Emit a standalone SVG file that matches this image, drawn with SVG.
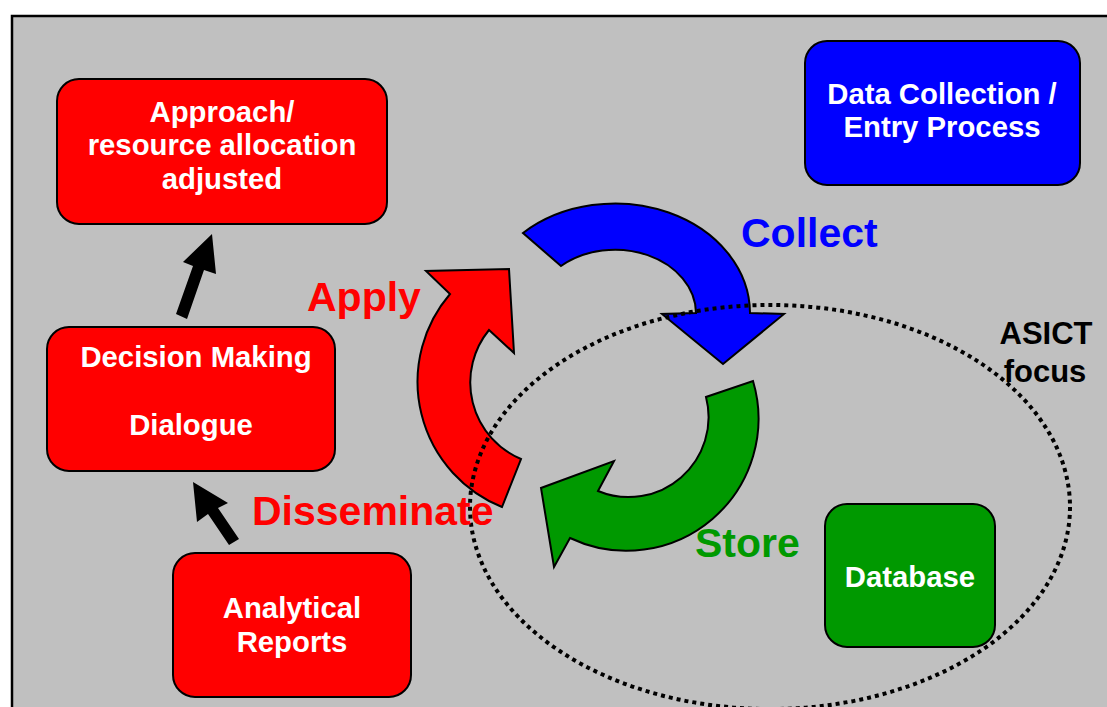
<svg xmlns="http://www.w3.org/2000/svg" width="1107" height="707" viewBox="0 0 1107 707">
<style>
.box{stroke:#000;stroke-width:2}
.bt{font-family:"Liberation Sans",Arial,sans-serif;font-weight:bold;font-size:29.3px;fill:#fff;text-anchor:middle}
.lbl{font-family:"Liberation Sans",Arial,sans-serif;font-weight:bold;font-size:41px}
.arc{stroke:#000;stroke-width:2;stroke-linejoin:miter}
</style>
<rect width="1107" height="707" fill="#fff"/>
<rect x="12" y="16" width="1110" height="710" fill="#C0C0C0" stroke="#000" stroke-width="2.5"/>
<g id="connectors">
<path id="arrow-apply" class="arc" fill="#FF0000" d="M502,507 A135 135 0 0 1 450,294 L426,271 L509,269 L514,353 L489,330 A83 83 0 0 0 521,459 Z"/>
<path id="arrow-collect" class="arc" fill="#0000FF" d="M523,233 A135 110 0 0 1 750,313 L784,314 L723,364 L662,314 L696,313 A81 64 0 0 0 561,266 Z"/>
<path id="arrow-store" class="arc" fill="#009900" d="M753,381 A132 132 0 0 1 570,538 L554,567 L541,488 L614,461 L598,491 A80 80 0 0 0 706,397 Z"/>
<polygon id="arrow-up" fill="#000" points="212,234 216,274 204,270 187,319 176,314 193,266 183,262"/>
<polygon id="arrow-upleft" fill="#000" points="193,482 228,503 218,508 239,539 229,545 208,514 197,522"/>
</g>
<ellipse id="focus" cx="770" cy="507" rx="300" ry="202" fill="none" stroke="#000" stroke-width="4" stroke-dasharray="4 4"/>
<g id="labels">
<text class="lbl" x="741" y="247" fill="#0000FF">Collect</text>
<text class="lbl" x="307" y="311" fill="#FF0000">Apply</text>
<text class="lbl" x="252" y="525" fill="#FF0000">Disseminate</text>
<text class="lbl" x="695" y="557" fill="#009900">Store</text>
<text font-family="Liberation Sans,Arial,sans-serif" font-weight="bold" font-size="31" text-anchor="middle" fill="#000"><tspan x="1046" y="344">ASICT</tspan><tspan x="1045" y="382">focus</tspan></text>
</g>
<g id="node-approach">
<rect class="box" x="57" y="79" width="330" height="145" rx="22" fill="#FF0000"/>
<text class="bt"><tspan x="222" y="122">Approach/</tspan><tspan x="222" y="155">resource allocation</tspan><tspan x="222" y="189">adjusted</tspan></text>
</g>
<g id="node-datacollection">
<rect class="box" x="805" y="41" width="275" height="144" rx="22" fill="#0000FF"/>
<text class="bt"><tspan x="942" y="104">Data Collection /</tspan><tspan x="942" y="137">Entry Process</tspan></text>
</g>
<g id="node-decision">
<rect class="box" x="47" y="327" width="288" height="144" rx="22" fill="#FF0000"/>
<text class="bt"><tspan x="196" y="367">Decision Making</tspan><tspan x="191" y="435">Dialogue</tspan></text>
</g>
<g id="node-reports">
<rect class="box" x="173" y="553" width="238" height="144" rx="22" fill="#FF0000"/>
<text class="bt"><tspan x="292" y="618">Analytical</tspan><tspan x="292" y="652">Reports</tspan></text>
</g>
<g id="node-database">
<rect class="box" x="825" y="504" width="170" height="143" rx="22" fill="#009900"/>
<text class="bt" x="910" y="587">Database</text>
</g>
</svg>
